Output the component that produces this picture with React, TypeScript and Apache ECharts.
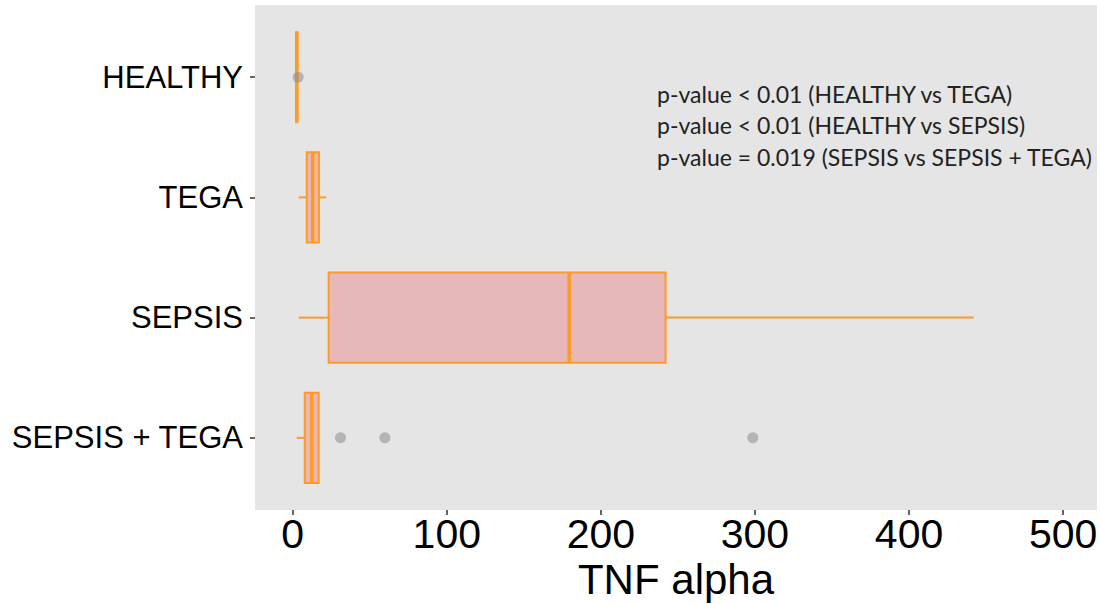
import { useEffect, useRef } from "react";
import * as echarts from "echarts";

const categories = ["HEALTHY", "TEGA", "SEPSIS", "SEPSIS + TEGA"];
const whiskerLow = [2.2, 3.9, 3.9, 2.6];
const q1 = [2.2, 9.1, 23.3, 7.8];
const median = [2.6, 13.0, 179.4, 12.3];
const q3 = [3.0, 17.0, 242.0, 16.8];
const whiskerHigh = [3.0, 21.8, 442.0, 16.8];
const outlierCategory = ["HEALTHY", "SEPSIS + TEGA", "SEPSIS + TEGA", "SEPSIS + TEGA"];
const outlierValue = [3.5, 31.0, 59.8, 298.6];
const xTicks = [0, 100, 200, 300, 400, 500];
const pValueLines = [
  "p-value < 0.01 (HEALTHY vs TEGA)",
  "p-value < 0.01 (HEALTHY vs SEPSIS)",
  "p-value = 0.019 (SEPSIS vs SEPSIS + TEGA)",
];

const ORANGE = "#FF9A22";
const PINK = "#E8B7B9";

export default function App() {
  const ref = useRef<HTMLDivElement>(null);
  useEffect(() => {
    if (!ref.current) return;
    const chart = echarts.init(ref.current, undefined, { renderer: "svg" });
    const boxData = categories.map((_, i) => [
      i + 1,
      whiskerLow[i],
      q1[i],
      median[i],
      q3[i],
      whiskerHigh[i],
    ]);
    const outlierData = outlierValue.map((v, i) => [v, categories.indexOf(outlierCategory[i]) + 1]);
    const catPos = categories.map((_, i) => i + 1);

    chart.setOption({
      animation: false,
      grid: {
        left: 255,
        right: 3,
        top: 5,
        bottom: 94,
        show: true,
        backgroundColor: "#E5E5E5",
        borderWidth: 0,
        containLabel: false,
        outerBoundsMode: "none",
      },
      xAxis: {
        type: "value",
        min: -24.5,
        max: 522,
        name: "TNF alpha",
        nameLocation: "middle",
        nameGap: 46,
        nameTextStyle: { fontFamily: "Liberation Sans", fontSize: 42, color: "#000" },
        axisLine: { show: false, onZero: false },
        splitLine: { show: false },
        axisTick: {
          show: true,
          customValues: xTicks,
          length: 5,
          lineStyle: { color: "#333", width: 1.5 },
        },
        axisLabel: {
          customValues: xTicks,
          fontFamily: "Liberation Sans",
          fontSize: 41,
          color: "#000",
          margin: 3,
        },
      },
      yAxis: {
        type: "value",
        min: 0.4,
        max: 4.6,
        inverse: true,
        axisLine: { show: false, onZero: false },
        splitLine: { show: false },
        axisTick: {
          show: true,
          customValues: catPos,
          length: 5,
          lineStyle: { color: "#333", width: 1.5 },
        },
        axisLabel: {
          customValues: catPos,
          formatter: (v: number) => categories[Math.round(v) - 1] ?? "",
          fontFamily: "Liberation Sans",
          fontSize: 31,
          color: "#000",
          margin: 12,
        },
      },
      series: [
        {
          type: "custom",
          data: boxData,
          encode: { x: [1, 2, 3, 4, 5], y: 0 },
          renderItem: (params: any, api: any) => {
            const y = api.value(0);
            const lo = api.coord([api.value(1), y]);
            const b1 = api.coord([api.value(2), y]);
            const md = api.coord([api.value(3), y]);
            const b3 = api.coord([api.value(4), y]);
            const hi = api.coord([api.value(5), y]);
            const h = Math.abs(api.size([0, 0.375])[1]);
            return {
              type: "group",
              children: [
                {
                  type: "line",
                  shape: { x1: lo[0], y1: lo[1], x2: b1[0], y2: b1[1] },
                  style: { stroke: ORANGE, lineWidth: 2 },
                },
                {
                  type: "line",
                  shape: { x1: b3[0], y1: b3[1], x2: hi[0], y2: hi[1] },
                  style: { stroke: ORANGE, lineWidth: 2 },
                },
                {
                  type: "rect",
                  shape: { x: b1[0], y: b1[1] - h, width: b3[0] - b1[0], height: 2 * h },
                  style: { fill: PINK, stroke: ORANGE, lineWidth: 2 },
                },
                {
                  type: "line",
                  shape: { x1: md[0], y1: md[1] - h, x2: md[0], y2: md[1] + h },
                  style: { stroke: ORANGE, lineWidth: 3.5 },
                },
              ],
            };
          },
          z: 2,
        },
        {
          type: "scatter",
          data: outlierData,
          symbolSize: 11,
          itemStyle: { color: "rgba(140,140,140,0.7)" },
          z: 3,
        },
      ],
      graphic: [
        {
          type: "text",
          left: 657,
          top: 78,
          style: {
            text: pValueLines.join("\n"),
            fontFamily: "Lato",
            fontSize: 23,
            lineHeight: 31.5,
            fill: "#222",
          },
          z: 10,
        },
      ],
    });
    return () => chart.dispose();
  }, []);
  return (
    <div
      ref={ref}
      style={{ position: "fixed", left: 0, top: 0, width: 1100, height: 604, background: "#fff" }}
    />
  );
}
